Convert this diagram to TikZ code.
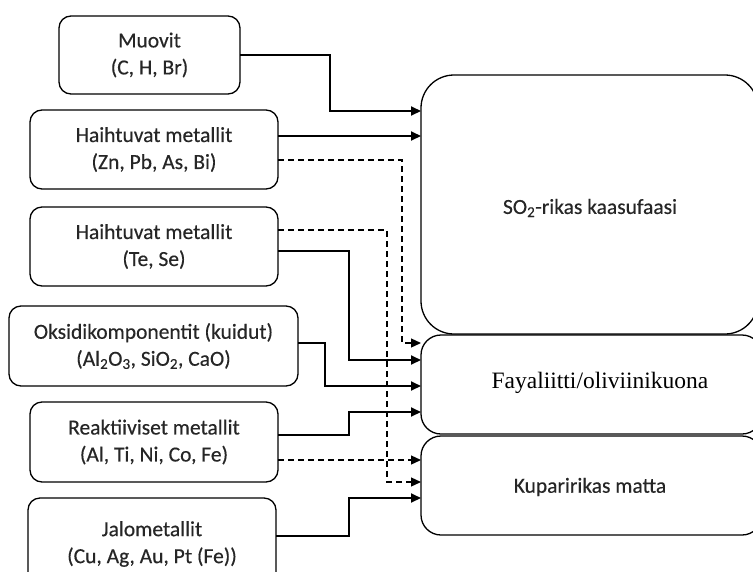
\documentclass[tikz,border=0pt]{standalone}
\usepackage{fontspec}
\newfontfamily\calfont[FakeBold=0.35]{Carlito}
\newfontfamily\tmsfont{Liberation Serif}
\usetikzlibrary{arrows.meta}
\begin{document}
\begin{tikzpicture}[x=1pt,y=-1pt,
  src/.style={draw, line width=1.3pt, rounded corners=12pt, inner sep=0pt, outer sep=0pt,
    align=center, font=\calfont\fontsize{21.5}{27}\selectfont, text=black!85},
  dst/.style={draw, line width=1.3pt, rounded corners=20pt, inner sep=0pt, outer sep=0pt},
  lbl/.style={inner sep=0pt, font=\calfont\fontsize{21.5}{27}\selectfont, text=black!85},
  arr/.style={line width=2pt, -{Triangle[length=10pt,width=9pt]}},
  darr/.style={line width=1.3pt, dash pattern=on 6pt off 4pt, -{Triangle[length=10pt,width=9pt]}}
]
\useasboundingbox (0,0) rectangle (753,571);
\clip (0,0) rectangle (753,571);
\fill[white] (0,0) rectangle (753,571);

% source boxes
\node[src, minimum width=181pt, minimum height=78pt] (muovit) at (149.5,55) {Muovit\\(C, H, Br)};
\node[src, minimum width=248pt, minimum height=79pt] (hm1) at (154,149.5) {Haihtuvat metallit\\(Zn, Pb, As, Bi)};
\node[src, minimum width=248pt, minimum height=79pt] (hm2) at (154,246.5) {Haihtuvat metallit\\(Te, Se)};
\node[src, minimum width=289pt, minimum height=80pt] (oks) at (153.5,346) {Oksidikomponentit (kuidut)\\(Al\textsubscript{2}O\textsubscript{3}, SiO\textsubscript{2}, CaO)};
\node[src, minimum width=248pt, minimum height=80pt] (reak) at (154,442) {Reaktiiviset metallit\\(Al, Ti, Ni, Co, Fe)};
\node[src, minimum width=248pt, minimum height=92pt] (jalo) at (152,544) {Jalometallit\\(Cu, Ag, Au, Pt (Fe))};

% destination boxes
\node[dst, rounded corners=33pt, minimum width=337pt, minimum height=259pt] (so2) at (589.5,204.5) {};
\node[dst, minimum width=341pt, minimum height=99pt] (fay) at (591.5,384.5) {};
\node[dst, minimum width=341pt, minimum height=99pt] (kup) at (591.5,485.5) {};

\node[lbl] (so2t) at (590,208) {SO\textsubscript{2}-rikas kaasufaasi};
\node[lbl, font=\tmsfont\fontsize{23.5}{28}\selectfont, text=black] (fayt) at (600,383) {Fayaliitti/oliviinikuona};
\node[lbl] (kupt) at (590,487) {Kuparirikas matta};

% connectors
\draw[arr] (muovit.east) -- (330,55) -- (330,111) -- (so2.west |- 0,111);
\draw[arr] (hm1.east |- 0,136) -- (so2.west |- 0,136);
\draw[darr] (hm1.east |- 0,160) -- (402,160) -- (402,343) -- (fay.west |- 0,343);
\draw[darr] (hm2.east |- 0,230) -- (387,230) -- (387,482) -- (kup.west |- 0,482);
\draw[arr] (hm2.east |- 0,251) -- (349,251) -- (349,360) -- (fay.west |- 0,360);
\draw[arr] (oks.east |- 0,343) -- (325,343) -- (325,386) -- (fay.west |- 0,386);
\draw[arr] (reak.east |- 0,435) -- (349,435) -- (349,412) -- (fay.west |- 0,412);
\draw[darr] (reak.east |- 0,460) -- (kup.west |- 0,460);
\draw[arr] (jalo.east |- 0,536) -- (349,536) -- (349,498) -- (kup.west |- 0,498);
\end{tikzpicture}
\end{document}
